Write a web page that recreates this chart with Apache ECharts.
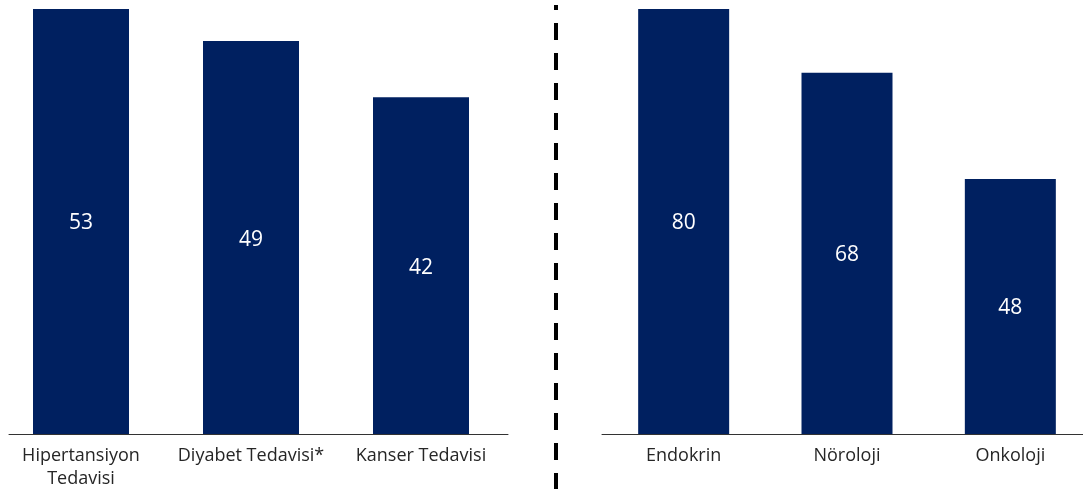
<!DOCTYPE html>
<html>
<head>
<meta charset="utf-8">
<style>
  html, body { margin: 0; padding: 0; background: #fff; }
  #chart { width: 1083px; height: 489px; }
</style>
<script src="https://cdn.jsdelivr.net/npm/echarts@6/dist/echarts.min.js"></script>
</head>
<body>
<div id="chart"></div>
<script>
// Treatment categories (left panel) and their values
const treatmentCategories = ['Hipertansiyon\nTedavisi', 'Diyabet Tedavisi*', 'Kanser Tedavisi'];
const treatmentValues = [53, 49, 42];

// Specialty categories (right panel) and their values
const specialtyCategories = ['Endokrin', 'Nöroloji', 'Onkoloji'];
const specialtyValues = [80, 68, 48];

const barColor = '#002060';
const axisColor = '#333333';
const textFont = 'Open Sans';

const chart = echarts.init(document.getElementById('chart'), null, { renderer: 'canvas' });

function catAxis(gridIndex, data, showLine) {
  return {
    type: 'category',
    gridIndex: gridIndex,
    data: data,
    axisLine: { show: showLine, lineStyle: { color: axisColor, width: 1 } },
    axisTick: { show: false },
    axisLabel: {
      show: data.length > 0,
      interval: 0,
      margin: 10,
      color: '#262626',
      fontFamily: textFont,
      fontSize: 18,
      lineHeight: 23
    }
  };
}

function valAxis(gridIndex, max) {
  return {
    type: 'value',
    gridIndex: gridIndex,
    min: 0,
    max: max,
    show: false,
    splitLine: { show: false }
  };
}

function barSeries(axisIndex, values, width) {
  return {
    type: 'bar',
    xAxisIndex: axisIndex,
    yAxisIndex: axisIndex,
    data: values,
    barWidth: width,
    itemStyle: { color: barColor },
    label: {
      show: true,
      position: 'inside',
      offset: [0, 2],
      color: '#ffffff',
      fontFamily: textFont,
      fontSize: 21
    },
    silent: true
  };
}

chart.setOption({
  animation: false,
  backgroundColor: '#ffffff',
  grid: [
    { left: -4, top: 9, width: 510, height: 425, outerBoundsMode: 'none' },
    { left: 602, top: 9, width: 490, height: 425, outerBoundsMode: 'none' },
    { left: 9, top: 9, width: 499, height: 425, outerBoundsMode: 'none' }
  ],
  xAxis: [
    catAxis(0, treatmentCategories, false),
    catAxis(1, specialtyCategories, true),
    catAxis(2, [], true)
  ],
  yAxis: [
    valAxis(0, 53),
    valAxis(1, 80),
    valAxis(2, 1)
  ],
  series: [
    barSeries(0, treatmentValues, 96),
    barSeries(1, specialtyValues, 91)
  ],
  graphic: [
    {
      type: 'line',
      silent: true,
      shape: { x1: 556, y1: 5, x2: 556, y2: 489 },
      style: { stroke: '#000000', lineWidth: 4, lineDash: [17, 13], lineDashOffset: 12 }
    }
  ]
});
</script>
</body>
</html>
